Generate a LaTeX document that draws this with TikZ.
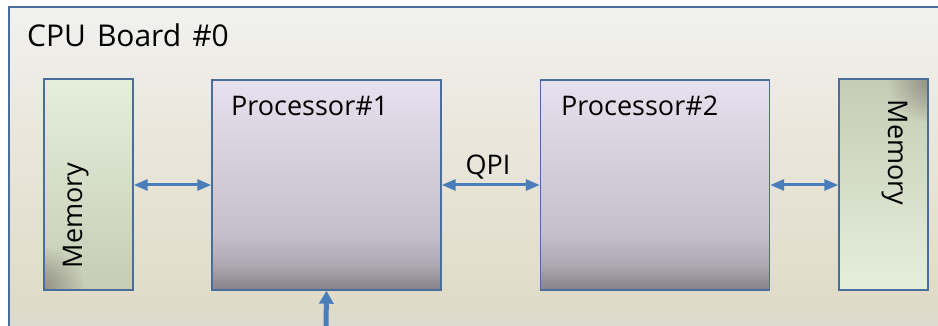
\documentclass[tikz,border=0pt]{standalone}
\usepackage{fontspec}
\setmainfont{Open Sans}
\usetikzlibrary{arrows.meta,fadings}

\definecolor{edge}{HTML}{4A6E9C}
\definecolor{link}{HTML}{4A7EBB}
\definecolor{boardtop}{HTML}{F1F1EF}
\definecolor{boardmid}{HTML}{EAE6DB}
\definecolor{boardlow}{HTML}{E0DBC8}
\definecolor{boardbot}{HTML}{DADAD5}
\definecolor{proctop}{HTML}{E7E1EF}
\definecolor{procmid}{HTML}{C5C0CB}
\definecolor{proclow}{HTML}{ADA8B2}
\definecolor{procbot}{HTML}{86828B}
\definecolor{memlight}{HTML}{E4EFDB}
\definecolor{memdark}{HTML}{C6CCB6}
\definecolor{memshade}{HTML}{8E8C7E}

% vertical shadings: the shaded path spans 25bp..75bp
\pgfdeclareverticalshading{boardshade}{100bp}{%
  color(0bp)=(boardbot); color(25bp)=(boardbot); color(30bp)=(boardlow);
  color(55bp)=(boardmid); color(75bp)=(boardtop); color(100bp)=(boardtop)}
\pgfdeclareverticalshading{procshade}{100bp}{%
  color(0bp)=(procbot); color(25bp)=(procbot); color(31bp)=(proclow);
  color(39bp)=(procmid); color(75bp)=(proctop); color(100bp)=(proctop)}

% soft round patch used for the dark corner of the memory blocks
\tikzfading[name=softblob, inner color=transparent!0, outer color=transparent!100]

\tikzset{
  chip/.style={draw=edge, line width=1.4pt, shading=procshade,
    minimum width=229pt, minimum height=210pt, inner sep=0pt},
  memory/.style={draw=edge, line width=1.4pt,
    minimum width=89pt, minimum height=211pt, inner sep=0pt},
  label/.style={font=\fontsize{27}{32}\selectfont, inner sep=0pt, text=black},
  title/.style={font=\fontsize{30}{36}\selectfont, inner sep=0pt, text=black},
  bus/.style={draw=link, line width=3pt,
    {Triangle[length=14pt,width=11pt]}-{Triangle[length=14pt,width=11pt]}},
  feed/.style={draw=link, line width=5pt, -{Triangle[length=13pt,width=14pt]}},
}

\begin{document}
\begin{tikzpicture}[x=1pt,y=1pt]
  \useasboundingbox (0,0) rectangle (938,326);
  \fill[white] (0,0) rectangle (938,326);

  % board
  \begin{scope}
    \clip (0,0) rectangle (938,326);
    \shade[shading=boardshade, draw=edge, line width=1.4pt]
      (9,-12) rectangle (960,319);
  \end{scope}
  \node[title, anchor=base west] (board) at (27,279)
    {CPU\hspace{11pt}Board\hspace{11pt}\#0};

  % memories
  \node[memory, shading=axis, top color=memlight, bottom color=memdark]
    (memL) at (88.5,141.5) {};
  \begin{scope}
    \clip (44,36) rectangle (133,247);
    \fill[memshade, path fading=softblob] (40,36) circle (45pt);
  \end{scope}
  \draw[edge, line width=1.4pt] (44,36) rectangle (133,247);
  \node[label, rotate=90, anchor=base] (memLtext) at (82,110.5) {Memory};

  \node[memory, shading=axis, top color=memdark, bottom color=memlight]
    (memR) at (883.5,141.5) {};
  \begin{scope}
    \clip (839,36) rectangle (928,247);
    \fill[memshade, path fading=softblob] (932,247) circle (45pt);
  \end{scope}
  \draw[edge, line width=1.4pt] (839,36) rectangle (928,247);
  \node[label, rotate=-90, anchor=base] (memRtext) at (888,173.5) {Memory};

  % processors
  \node[chip] (p1) at (326.5,141) {};
  \node[label, anchor=base west] (p1text) at (231,210) {Processor\#1};
  \node[chip] (p2) at (655,141) {};
  \node[label, anchor=base west] (p2text) at (561,210) {Processor\#2};

  % links
  \draw[bus] (memL.east |- 0,141) -- (p1.west |- 0,141);
  \draw[bus] (p1.east |- 0,141) -- (p2.west |- 0,141);
  \node[label, anchor=base] (qpi) at (488,151) {QPI};
  \draw[bus] (p2.east |- 0,141) -- (memR.west |- 0,141);

  \coordinate (feedin) at (326,-2);
  \draw[feed] (feedin) -- (p1.south);
\end{tikzpicture}
\end{document}
